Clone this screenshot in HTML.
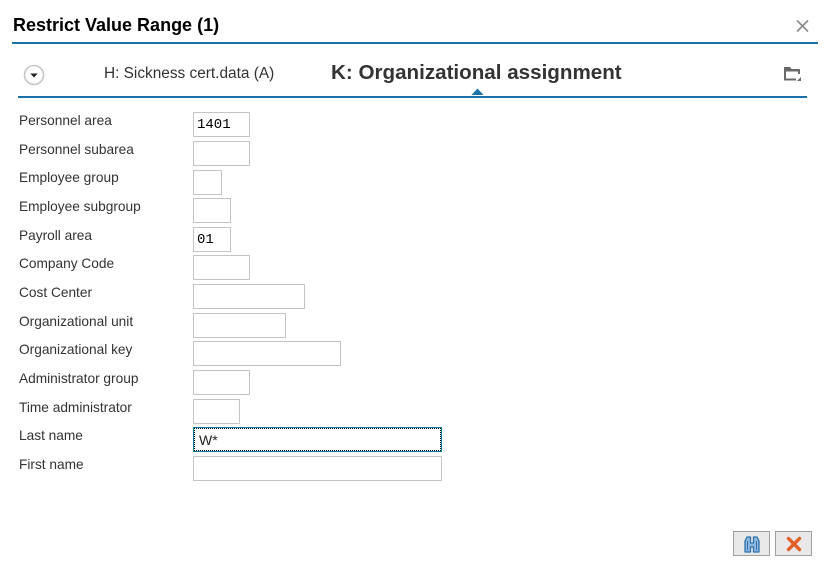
<!DOCTYPE html>
<html>
<head>
<meta charset="utf-8">
<style>
html,body{margin:0;padding:0;background:#fff;}
body{width:831px;height:572px;position:relative;overflow:hidden;font-family:"Liberation Sans",Arial,sans-serif;color:#333;}
.abs{position:absolute;}
.title{left:13px;top:14px;font-size:18px;font-weight:bold;color:#000;line-height:22px;white-space:nowrap;}
.line1{left:12px;top:42px;width:806px;height:2px;background:#1b72ab;}
.line2{left:18px;top:96px;width:789px;height:2px;background:#1b72ab;}
.tabA{left:104px;top:64px;font-size:15.4px;line-height:20px;color:#333;white-space:nowrap;}
.tabK{left:331px;top:61px;font-size:20.6px;font-weight:bold;line-height:24px;color:#333;white-space:nowrap;}
.lbl{left:19px;font-size:13.7px;line-height:16px;color:#333;white-space:nowrap;}
.box{left:193px;height:23px;border:1px solid #c4c4c4;background:#fff;box-sizing:content-box;}
.val{position:absolute;left:3px;top:4px;font-family:"Liberation Mono",monospace;font-size:14px;line-height:16px;color:#000;}
.btn{top:531px;width:35px;height:23px;background:#e9e9e9;border:1px solid #a0a0a0;}
</style>
</head>
<body>
<div class="abs title">Restrict Value Range (1)</div>
<svg class="abs" style="left:795px;top:19px" width="15" height="14" viewBox="0 0 15 14"><path d="M2 1.5 L13 12.5 M13 1.5 L2 12.5" stroke="#8a8a8a" stroke-width="1.6"/></svg>
<div class="abs line1"></div>

<svg class="abs" style="left:22px;top:63px" width="24" height="24" viewBox="0 0 24 24">
<circle cx="12" cy="12" r="9.5" fill="#fff" stroke="#c6c6c6" stroke-width="1.6"/>
<path d="M8.3 10.5 L15.7 10.5 L12 14.5 Z" fill="#222"/>
</svg>
<div class="abs tabA">H: Sickness cert.data (A)</div>
<div class="abs tabK">K: Organizational assignment</div>
<svg class="abs" style="left:783px;top:65px" width="19" height="17" viewBox="0 0 19 17">
<path d="M1 2 L7 2 L8.5 4 L17 4 L17 9 L15 9 L15 6.5 L3 6.5 L3 13.5 L13 13.5 L13 15.5 L1 15.5 Z" fill="#6a6a6a"/>
<path d="M14 16 L18 16 L18 12 Z" fill="#6a6a6a"/>
</svg>
<svg class="abs" style="left:471px;top:88px" width="13" height="8" viewBox="0 0 13 8"><path d="M0.5 7 L6.5 0.5 L12.5 7 Z" fill="#1b72ab"/></svg>
<div class="abs line2"></div>

<div class="abs lbl" style="top:113px">Personnel area</div>
<div class="abs box" style="top:112px;width:55px"><span class="val">1401</span></div>

<div class="abs lbl" style="top:142px">Personnel subarea</div>
<div class="abs box" style="top:141px;width:55px"></div>

<div class="abs lbl" style="top:170px">Employee group</div>
<div class="abs box" style="top:170px;width:27px"></div>

<div class="abs lbl" style="top:199px">Employee subgroup</div>
<div class="abs box" style="top:198px;width:36px"></div>

<div class="abs lbl" style="top:228px">Payroll area</div>
<div class="abs box" style="top:227px;width:36px"><span class="val">01</span></div>

<div class="abs lbl" style="top:256px">Company Code</div>
<div class="abs box" style="top:255px;width:55px"></div>

<div class="abs lbl" style="top:285px">Cost Center</div>
<div class="abs box" style="top:284px;width:110px"></div>

<div class="abs lbl" style="top:314px">Organizational unit</div>
<div class="abs box" style="top:313px;width:91px"></div>

<div class="abs lbl" style="top:342px">Organizational key</div>
<div class="abs box" style="top:341px;width:146px"></div>

<div class="abs lbl" style="top:371px">Administrator group</div>
<div class="abs box" style="top:370px;width:55px"></div>

<div class="abs lbl" style="top:400px">Time administrator</div>
<div class="abs box" style="top:399px;width:45px"></div>

<div class="abs lbl" style="top:428px">Last name</div>
<div class="abs" style="left:193px;top:427px;width:247px;height:23px;border:1px solid #0b7ea0;">
  <div style="position:absolute;left:0;top:0;right:0;bottom:0;border:1px dotted #000;"></div>
  <span style="position:absolute;left:5px;top:4px;font-size:14px;line-height:16px;color:#222;">W*</span>
</div>

<div class="abs lbl" style="top:457px">First name</div>
<div class="abs box" style="top:456px;width:247px"></div>

<div class="abs btn" style="left:733px">
<svg style="position:absolute;left:9px;top:3px" width="18" height="18" viewBox="0 0 18 18">
<path d="M2 17 L2 6 L4 2 L7.5 2 L7.5 8 L10.5 8 L10.5 2 L14 2 L16 6 L16 17 L10.5 17 L10.5 12 L7.5 12 L7.5 17 Z" fill="#8fb9e0" stroke="#2f6fa8" stroke-width="1.3" stroke-linejoin="round"/>
<path d="M4.5 6 L4.5 15 M13.5 6 L13.5 15" stroke="#2f6fa8" stroke-width="1"/>
</svg>
</div>
<div class="abs btn" style="left:775px">
<svg style="position:absolute;left:10px;top:4px" width="16" height="16" viewBox="0 0 16 16">
<path d="M2.5 2.5 L13.5 13.5 M13.5 2.5 L2.5 13.5" stroke="#e2602a" stroke-width="3.4" stroke-linecap="round"/>
</svg>
</div>
</body>
</html>
